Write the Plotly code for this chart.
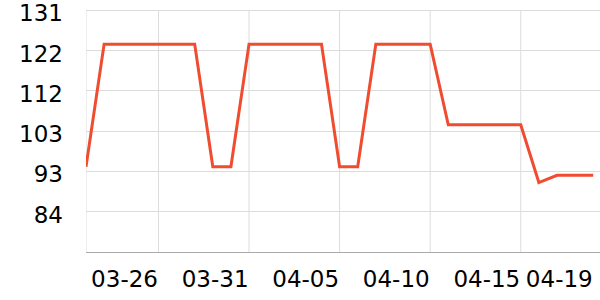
import plotly.graph_objects as go
import pandas as pd

dates = [d.strftime("%Y-%m-%d") for d in pd.date_range("2024-03-22", "2024-04-19", freq="D")]
values = [94.5,
          123.1, 123.1, 123.1, 123.1, 123.1, 123.1,
          94.5, 94.5,
          123.1, 123.1, 123.1, 123.1, 123.1,
          94.5, 94.5,
          123.1, 123.1, 123.1, 123.1,
          104.3, 104.3, 104.3, 104.3, 104.3,
          90.8,
          92.5, 92.5, 92.5]

x_tickvals = ["2024-03-26", "2024-03-31", "2024-04-05", "2024-04-10", "2024-04-15", "2024-04-19"]
x_ticktext = ["03-26", "03-31", "04-05", "04-10", "04-15", "04-19"]
grid_dates = ["2024-03-22", "2024-03-26", "2024-03-31", "2024-04-05", "2024-04-10", "2024-04-15"]

y_tickvals = [84.0, 93.4, 102.8, 112.2, 121.6, 131.0]
y_ticktext = ["84", "93", "103", "112", "122", "131"]
y_range = [74.6, 131.3]
x_range = ["2024-03-22", "2024-04-19 09:00"]

fig = go.Figure()
fig.add_trace(go.Scatter(x=dates, y=values, mode="lines",
                         line=dict(color="#ef4c30", width=3), hoverinfo="skip"))

shapes = []
for d in grid_dates:
    shapes.append(dict(type="line", xref="x", yref="y", x0=d, x1=d, y0=y_range[0] - 0.9,
                       y1=y_tickvals[-1],
                       line=dict(color="#dcdcdc", width=1), layer="below"))
fig.update_layout(
    width=600, height=300,
    margin=dict(l=86, r=0, t=9, b=48),
    paper_bgcolor="white", plot_bgcolor="white",
    showlegend=False,
    shapes=shapes,
    font=dict(family="DejaVu Sans", size=23, color="#000"),
    xaxis=dict(type="date", range=x_range, tickvals=x_tickvals, ticktext=x_ticktext,
               showgrid=False, ticks="", showline=True, linecolor="#aaaaaa", linewidth=1,
               ticklabelposition="outside left", ticklabelstandoff=6, zeroline=False,
               tickangle=0, ticklabeloverflow="allow", automargin=False),
    yaxis=dict(range=y_range, tickvals=y_tickvals, ticktext=y_ticktext,
               showgrid=True, gridcolor="#dcdcdc", gridwidth=1, ticks="",
               showline=False, zeroline=False, ticklabelstandoff=22, ticklabelshift=3,
               ticklabeloverflow="allow", automargin=False),
)
fig.write_html("out.html")
